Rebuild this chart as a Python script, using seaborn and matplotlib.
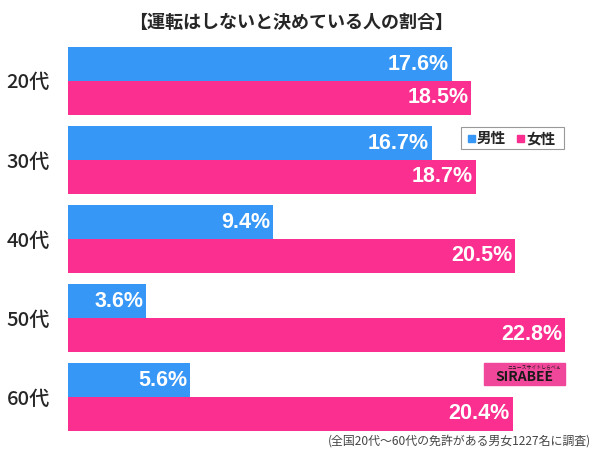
import numpy as np
import pandas as pd
import seaborn as sns
import matplotlib.pyplot as plt

# data
ages = ["20代", "30代", "40代", "50代", "60代"]
male = [17.6, 16.7, 9.4, 3.6, 5.6]
female = [18.5, 18.7, 20.5, 22.8, 20.4]
series = ["男性", "女性"]
colors = ["#3797f7", "#fb2f8f"]

df = pd.DataFrame({
    "age": ages * 2,
    "value": male + female,
    "sex": [series[0]] * len(ages) + [series[1]] * len(ages),
})

sns.set_style("white")
plt.rcParams['font.family'] = ['Noto Sans CJK JP', 'DejaVu Sans']

fig = plt.figure(figsize=(6, 4.53), dpi=100)
ax = fig.add_axes([68 / 600, 1 - 431 / 453, 522 / 600, 384 / 453])

sns.barplot(data=df, x="value", y="age", hue="sex", orient="h",
            palette=colors, width=0.85, ax=ax, legend=False,
            saturation=1, linewidth=0)

# value labels inside the bars
for cont in ax.containers:
    for bar in cont:
        w = bar.get_width()
        y = bar.get_y() + bar.get_height() / 2
        ax.text(w - 0.13, y, f"{w:.1f}%", ha="right", va="center",
                color="white", fontsize=15.5, fontweight="bold",
                family="Liberation Sans")

ax.set_xlim(0, 522 / 21.8)
ax.set_ylim(4.43, -0.43)
ax.set_xlabel("")
ax.set_ylabel("")
ax.set_xticks([])
ax.tick_params(axis="y", length=0, labelsize=14.5, pad=13)
for lab in ax.get_yticklabels():
    lab.set_fontweight("medium")
for s in ax.spines.values():
    s.set_visible(False)

fig.text(0.485, 1 - 22 / 453, "【運転はしないと決めている人の割合】", ha="center",
         va="center", fontsize=13, fontweight="bold")
fig.text(0.985, 1 - 441 / 453, "(全国20代～60代の免許がある男女1227名に調査)",
         ha="right", va="center", fontsize=8.6, color="#444444")

# legend box
lx, ly = 461 / 600, 1 - 138 / 453
fig.patches.append(plt.Rectangle((lx, ly - 11 / 453), 103 / 600, 22 / 453,
                                 transform=fig.transFigure, facecolor="white",
                                 edgecolor="#999999", linewidth=0.8))
fig.patches.append(plt.Rectangle((lx + 7 / 600, ly - 3.5 / 453), 7 / 600, 7 / 453,
                                 transform=fig.transFigure, color=colors[0]))
fig.text(lx + 16 / 600, ly, series[0], va="center", fontsize=10.5, fontweight="bold")
fig.patches.append(plt.Rectangle((lx + 56 / 600, ly - 3.5 / 453), 7 / 600, 7 / 453,
                                 transform=fig.transFigure, color=colors[1]))
fig.text(lx + 65 / 600, ly, series[1], va="center", fontsize=10.5, fontweight="bold")

# SIRABEE logo stand-in
fig.patches.append(plt.Rectangle((484 / 600, 1 - 385 / 453), 81 / 600, 22 / 453,
                                 transform=fig.transFigure, color="#f0479a"))
fig.text(524 / 600, 1 - 377 / 453, "SIRABEE", ha="center", va="center",
         fontsize=10, fontweight="bold", style="italic", color="#1a1a1a")
fig.text(534 / 600, 1 - 367 / 453, "ニュースサイトしらべぇ", ha="center",
         va="center", fontsize=3.5, color="#1a1a1a")

fig.savefig("out.png", dpi=100)
